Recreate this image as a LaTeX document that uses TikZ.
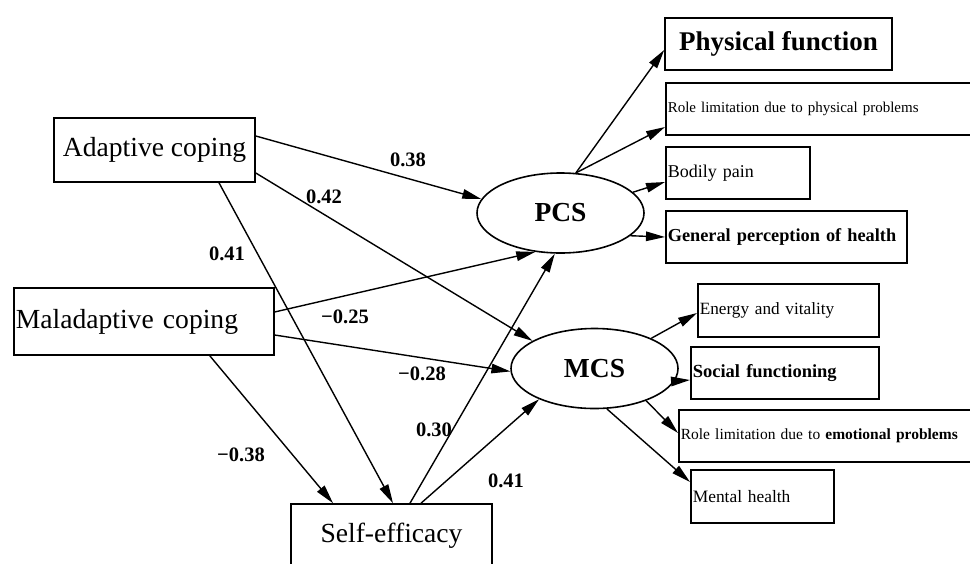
\documentclass[tikz,border=0pt]{standalone}
\usepackage{fontspec}
\setmainfont{Liberation Serif}
\usetikzlibrary{arrows.meta,shapes.geometric}
\begin{document}
\begin{tikzpicture}[x=1pt,y=-1pt,
 box/.style={draw, line width=1.6pt, inner sep=0pt},
 lbox/.style={box, anchor=west, align=left, inner xsep=2pt, inner ysep=0pt},
 lat/.style={draw, ellipse, line width=1.6pt, minimum width=167pt, minimum height=80pt, inner sep=0pt, font=\fontsize{27.5}{30}\selectfont\bfseries},
 coef/.style={font=\fontsize{20.5}{22}\selectfont\bfseries, inner sep=0pt},
 arr/.style={line width=1.4pt, -{Triangle[length=19pt,width=9.5pt]}},
 big/.style={font=\fontsize{27.6}{30}\selectfont}
]
\clip (0,0) rectangle (970,563);
\fill[white] (0,0) rectangle (970,563);
% observed boxes
\node[box, big, minimum width=201pt, minimum height=64pt] (adapt) at (154.5,150) {Adaptive coping};
\node[lbox, big, text width=256pt, minimum height=67pt] (malad) at (13,321.5) {Maladaptive coping};
\node[box, big, minimum width=201pt, minimum height=64pt] (self) at (391.5,536) {Self-efficacy};
\node[box, font=\fontsize{27}{30}\selectfont\bfseries, minimum width=227pt, minimum height=52pt] (phys) at (778.5,44) {Physical function};
\node[lbox, font=\fontsize{15}{17}\selectfont, text width=341pt, minimum height=52pt] (rolep) at (665,109) {Role limitation due to physical problems};
\node[lbox, font=\fontsize{18}{20}\selectfont, text width=140pt, minimum height=52pt] (bodily) at (665,173) {Bodily pain};
\node[lbox, font=\fontsize{18.3}{20}\selectfont\bfseries, text width=237pt, minimum height=52pt] (gen) at (665,237) {General perception of health};
\node[lbox, font=\fontsize{17.2}{20}\selectfont, text width=177pt, minimum height=53pt] (energy) at (697,310.5) {Energy and vitality};
\node[lbox, font=\fontsize{18.5}{20}\selectfont\bfseries, text width=184pt, minimum height=52pt] (social) at (690,373) {Social functioning};
\node[lbox, font=\fontsize{15.5}{17}\selectfont, text width=328pt, minimum height=52pt] (rolee) at (678,436) {Role limitation due to \textbf{emotional problems}};
\node[lbox, font=\fontsize{17.4}{20}\selectfont, text width=139pt, minimum height=53pt] (mental) at (690,496.5) {Mental health};
% latent
\node[lat] (pcs) at (560.5,213) {PCS};
\node[lat] (mcs) at (594.5,368.5) {MCS};
% structural paths
\draw[arr] ([yshift=14pt]adapt.east) -- (pcs.170);
\draw[arr] ([yshift=-23pt]adapt.east) -- (mcs.156);
\draw[arr] ([xshift=64.5pt]adapt.south) -- ([xshift=1.5pt]self.north);
\draw[arr] ([yshift=9.5pt]malad.east) -- (pcs.237);
\draw[arr] ([yshift=-13.5pt]malad.east) -- (mcs.182);
\draw[arr] ([xshift=66pt]malad.south) -- ([xshift=-58.5pt]self.north);
\draw[arr] ([xshift=18.5pt]self.north) -- (pcs.262);
\draw[arr] ([xshift=29.5pt]self.north) -- (mcs.209);
% measurement paths
\draw[arr] (pcs.69) -- ([yshift=-6pt]phys.west);
\draw[arr] (pcs.69) -- ([yshift=-18pt]rolep.west);
\draw[arr] (pcs.16) -- ([yshift=-9pt]bodily.west);
\draw[arr] (pcs.-18) -- (gen.west);
\draw[arr] (mcs.28) -- ([yshift=-2.5pt]energy.west);
\draw[arr] (mcs.-9) -- ([yshift=-7pt]social.west);
\draw[arr] (mcs.-32) -- ([yshift=3pt]rolee.west);
\draw[arr] (mcs.-73) -- ([yshift=14.5pt]mental.west);
% coefficients
\node[coef] (l1) at (408,160) {0.38};
\node[coef] (l2) at (324,197) {0.42};
\node[coef] (l3) at (227,254) {0.41};
\node[coef] (l4) at (345,317) {−0.25};
\node[coef] (l5) at (422,374) {−0.28};
\node[coef] (l6) at (434,430) {0.30};
\node[coef] (l7) at (241,455) {−0.38};
\node[coef] (l8) at (506,481) {0.41};
\end{tikzpicture}
\end{document}
